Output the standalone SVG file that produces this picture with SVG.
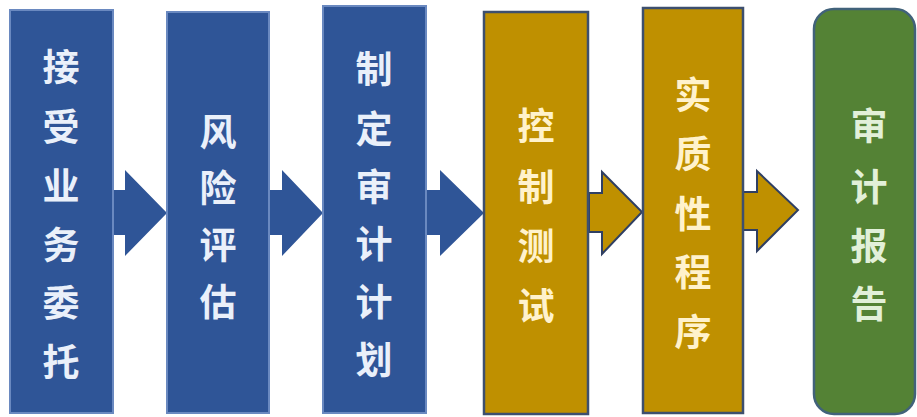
<svg xmlns="http://www.w3.org/2000/svg" width="917" height="417" viewBox="0 0 917 417">
<style>
.t{font-family:"Noto Sans CJK SC","Noto Sans CJK TC",sans-serif;font-size:37px;font-weight:bold;text-anchor:middle;dominant-baseline:central}
.blue{fill:#2f5597;stroke:#6a89c0;stroke-width:2}
.gold{fill:#bf9000;stroke:#3d4f6e;stroke-width:2.5}
.green{fill:#548235;stroke:#41627a;stroke-width:2.5}
.tb{fill:#eaf0fa}
.tg{fill:#fff2cc}
.tgr{fill:#e2f0d9}
.ab{fill:#2f5597;stroke:none}
.ag{fill:#bf9000;stroke:#2f3f63;stroke-width:2}
</style>
<rect width="917" height="417" fill="#ffffff"/>
<g id="connectors">
<polygon class="ab" points="112,190 125,190 125,170 167,213 125,256 125,235 112,235"/>
<polygon class="ab" points="268,190 282,190 282,170 323,213 282,256 282,235 268,235"/>
<polygon class="ab" points="425,190 440,190 440,170 484,213 440,256 440,235 425,235"/>
<polygon class="ag" points="589,193 602,193 602,172 642,212 602,254 602,232 589,232"/>
<polygon class="ag" points="743,192 757,192 757,171 798,210 757,251 757,230 743,230"/>
</g>
<g id="n1">
<rect class="blue" x="10" y="10" width="103" height="403"/>
<text class="t tb" x="61" y="65">接</text>
<text class="t tb" x="61" y="125">受</text>
<text class="t tb" x="61" y="184">业</text>
<text class="t tb" x="61" y="243">务</text>
<text class="t tb" x="61" y="301">委</text>
<text class="t tb" x="61" y="360">托</text>
</g>
<g id="n2">
<rect class="blue" x="167" y="12" width="102" height="401"/>
<text class="t tb" x="218" y="130">风</text>
<text class="t tb" x="218" y="186">险</text>
<text class="t tb" x="218" y="243">评</text>
<text class="t tb" x="218" y="300">估</text>
</g>
<g id="n3">
<rect class="blue" x="323" y="6" width="103" height="407"/>
<text class="t tb" x="374" y="67">制</text>
<text class="t tb" x="374" y="127">定</text>
<text class="t tb" x="374" y="185">审</text>
<text class="t tb" x="374" y="242">计</text>
<text class="t tb" x="374" y="300">计</text>
<text class="t tb" x="374" y="358">划</text>
</g>
<g id="n4">
<rect class="gold" x="484" y="12" width="104" height="402"/>
<text class="t tg" x="536" y="124">控</text>
<text class="t tg" x="536" y="185">制</text>
<text class="t tg" x="536" y="244">测</text>
<text class="t tg" x="536" y="304">试</text>
</g>
<g id="n5">
<rect class="gold" x="643" y="8" width="100" height="405"/>
<text class="t tg" x="693" y="93">实</text>
<text class="t tg" x="693" y="152">质</text>
<text class="t tg" x="693" y="212">性</text>
<text class="t tg" x="693" y="270">程</text>
<text class="t tg" x="693" y="330">序</text>
</g>
<g id="n6">
<rect class="green" x="814" y="9" width="101" height="405" rx="20" ry="20"/>
<text class="t tgr" x="869" y="124">审</text>
<text class="t tgr" x="869" y="185">计</text>
<text class="t tgr" x="869" y="244">报</text>
<text class="t tgr" x="869" y="302">告</text>
</g>
</svg>
